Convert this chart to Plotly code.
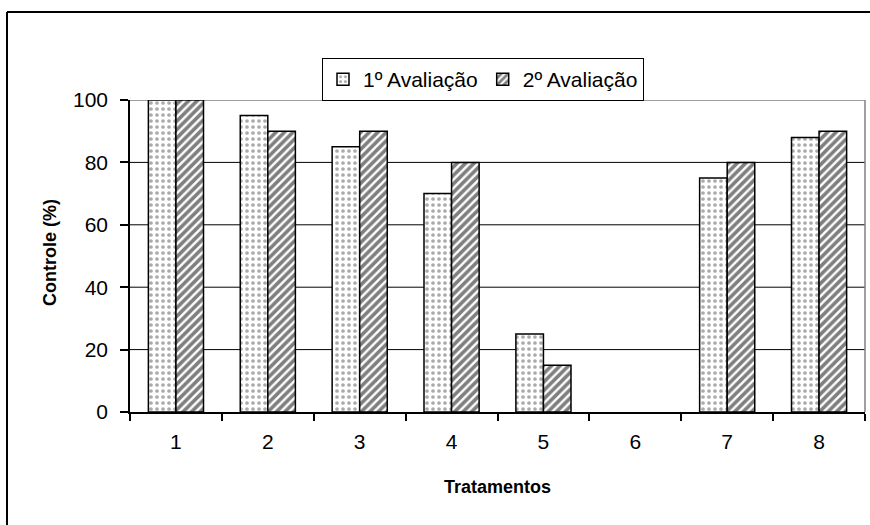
import plotly.graph_objects as go

categories = ["1", "2", "3", "4", "5", "6", "7", "8"]
aval1 = [100, 95, 85, 70, 25, 0, 75, 88]
aval2 = [100, 90, 90, 80, 15, 0, 80, 90]
series_names = ["1º Avaliação", "2º Avaliação"]
y_ticks = [0, 20, 40, 60, 80, 100]

FONT = "Arial, Liberation Sans, sans-serif"

def outline_widths(vals):
    # zero-height bars show no outline in the reference
    return [1.5 if v > 0 else 0 for v in vals]

fig = go.Figure()
fig.add_trace(go.Bar(
    x=categories, y=aval1, name=series_names[0],
    marker=dict(color="white",
                line=dict(color="black", width=outline_widths(aval1)),
                pattern=dict(shape=".", fgcolor="#555555", bgcolor="white",
                             size=6, solidity=0.3)),
))
fig.add_trace(go.Bar(
    x=categories, y=aval2, name=series_names[1],
    marker=dict(color="white",
                line=dict(color="black", width=outline_widths(aval2)),
                pattern=dict(shape="/", fgcolor="black", bgcolor="white",
                             size=6, solidity=0.6)),
))

L, R, T, B = 130, 5, 100, 113
W, H = 870, 525
pw, ph = W - L - R, H - T - B

def px(x):
    return (x - L) / pw

def py(y):
    return (H - B - y) / ph

shapes = []
# horizontal gridlines (black) at the inner ticks, through the y axis scale
for v in y_ticks[1:-1]:
    shapes.append(dict(type="line", xref="paper", yref="y", x0=0, x1=1,
                       y0=v, y1=v, line=dict(color="black", width=1),
                       layer="below"))
# gray top/right plot border
shapes.append(dict(type="line", xref="paper", yref="y", x0=0, x1=1,
                   y0=y_ticks[-1], y1=y_ticks[-1],
                   line=dict(color="#808080", width=1.5), layer="below"))
shapes.append(dict(type="line", xref="paper", yref="paper", x0=1, x1=1,
                   y0=0, y1=1, line=dict(color="#808080", width=1.5),
                   layer="below"))
# outer chart frame (left and top edges visible)
shapes.append(dict(type="line", xref="paper", yref="paper", x0=px(7),
                   x1=px(7), y0=py(530), y1=py(12),
                   line=dict(color="black", width=2)))
shapes.append(dict(type="line", xref="paper", yref="paper", x0=px(7),
                   x1=px(875), y0=py(12), y1=py(12),
                   line=dict(color="black", width=2)))

annotations = [
    dict(text="<b>Controle (%)</b>", xref="paper", yref="paper",
         x=px(50), y=py(253), textangle=-90, showarrow=False,
         xanchor="center", yanchor="middle",
         font=dict(family=FONT, size=18, color="black")),
    dict(text="<b>Tratamentos</b>", xref="paper", yref="paper",
         x=px(497), y=py(487), showarrow=False,
         xanchor="center", yanchor="middle",
         font=dict(family=FONT, size=18, color="black")),
]

fig.update_layout(
    width=W, height=H,
    margin=dict(l=L, r=R, t=T, b=B, pad=0),
    paper_bgcolor="white", plot_bgcolor="white",
    barmode="group", bargap=0.4, bargroupgap=0,
    font=dict(family=FONT, size=21, color="black"),
    shapes=shapes, annotations=annotations,
    legend=dict(orientation="h", x=px(483), y=py(58),
                xanchor="center", yanchor="top",
                bordercolor="black", borderwidth=1, bgcolor="white",
                font=dict(family=FONT, size=21, color="black"),
                traceorder="normal", itemwidth=30),
    xaxis=dict(type="category", tickson="boundaries", ticks="outside",
               ticklen=7, tickwidth=1.5, tickcolor="black",
               showline=True, linecolor="black", linewidth=1.5,
               showgrid=False, fixedrange=True, ticklabelstandoff=10,
               tickfont=dict(family=FONT, size=21)),
    yaxis=dict(range=[0, 100], tickvals=y_ticks, ticks="outside",
               ticklen=8, tickwidth=1.5, tickcolor="black",
               showline=True, linecolor="black", linewidth=1.5,
               showgrid=False, zeroline=False, fixedrange=True,
               ticklabelstandoff=8,
               tickfont=dict(family=FONT, size=21)),
)

fig.write_html("out.html")
